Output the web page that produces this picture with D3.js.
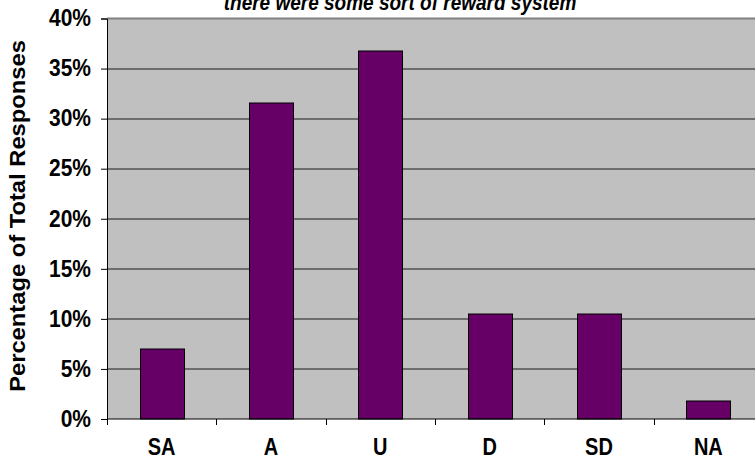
<!DOCTYPE html>
<html>
<head>
<meta charset="utf-8">
<script src="https://cdn.jsdelivr.net/npm/d3@7"></script>
<style>
  body { margin: 0; background: #fff; }
  text { font-family: Arial, "Liberation Sans", sans-serif; }
</style>
</head>
<body>
<div id="chart"></div>
<script>
// response categories and share of total responses (%)
var categories = ["SA", "A", "U", "D", "SD", "NA"];
var shares = [7.0, 31.6, 36.8, 10.5, 10.5, 1.8];
var yTicks = [0, 5, 10, 15, 20, 25, 30, 35, 40];
var titleText = "there were some sort of reward system";
var yTitle = "Percentage of Total Responses";

var width = 755, height = 466;
var margin = {top: 18.5, right: -8, bottom: 47, left: 107};
var innerW = width - margin.left - margin.right,
    innerH = height - margin.top - margin.bottom;
var stretch = 1.15; // the reference text looks stretched vertically

var svg = d3.select("#chart").append("svg")
    .attr("width", width)
    .attr("height", height);

var g = svg.append("g")
    .attr("transform", "translate(" + margin.left + "," + margin.top + ")");

var x = d3.scaleBand()
    .domain(categories)
    .range([0, innerW])
    .paddingInner(0.6)
    .paddingOuter(0.3);

var y = d3.scaleLinear()
    .domain([0, 40])
    .range([innerH, 0]);

// plot area
g.append("rect")
    .attr("width", innerW)
    .attr("height", innerH)
    .attr("fill", "#c0c0c0");

// gridlines
g.selectAll("line.grid")
    .data(yTicks.slice(1, -1))
    .enter()
    .append("line")
        .attr("class", "grid")
        .attr("x1", 0)
        .attr("x2", innerW)
        .attr("y1", function(d) { return Math.round(y(d)) + 0.5; })
        .attr("y2", function(d) { return Math.round(y(d)) + 0.5; })
        .attr("stroke", "#1a1a1a")
        .attr("stroke-width", 1);

// top border
g.append("line")
    .attr("x1", 0).attr("x2", innerW)
    .attr("y1", y(40)).attr("y2", y(40))
    .attr("stroke", "#808080")
    .attr("stroke-width", 2);

// bars
g.selectAll("rect.bar")
    .data(shares)
    .enter()
    .append("rect")
        .attr("class", "bar")
        .attr("x", function(d, i) { return Math.round(x(categories[i])) + 0.5; })
        .attr("y", function(d) { return Math.round(y(d)) + 0.5; })
        .attr("width", Math.round(x.bandwidth()))
        .attr("height", function(d) { return Math.round(innerH - y(d)); })
        .attr("fill", "#660066")
        .attr("stroke", "#000")
        .attr("stroke-width", 1);

// y axis
var yAxis = g.append("g")
    .call(d3.axisLeft(y)
        .tickValues(yTicks)
        .tickSize(6)
        .tickPadding(10)
        .tickFormat(function(d) { return d + "%"; }));
yAxis.select(".domain").attr("stroke", "#000");
yAxis.selectAll(".tick line").attr("stroke", "#000");
yAxis.selectAll("text")
    .attr("fill", "#000")
    .attr("transform", "scale(1," + stretch + ")")
    .attr("dy", "0.3em")
    .style("font-size", "21px")
    .style("font-weight", "bold");

// x axis with ticks on category boundaries
var step = x.step();
var xAxis = g.append("g")
    .attr("transform", "translate(0," + innerH + ")");
xAxis.append("line")
    .attr("x1", 0).attr("x2", innerW)
    .attr("stroke", "#000");
xAxis.selectAll("line.tk")
    .data(d3.range(categories.length + 1))
    .enter()
    .append("line")
        .attr("class", "tk")
        .attr("x1", function(d) { return Math.round(d * step) + 0.5; })
        .attr("x2", function(d) { return Math.round(d * step) + 0.5; })
        .attr("y1", 0)
        .attr("y2", 6)
        .attr("stroke", "#000");
xAxis.selectAll("text")
    .data(categories)
    .enter()
    .append("text")
        .attr("transform", function(d) {
            return "translate(" + (x(d) + x.bandwidth() / 2) + ",36) scale(1," + stretch + ")";
        })
        .attr("text-anchor", "middle")
        .style("font-size", "20px")
        .style("font-weight", "bold")
        .text(function(d) { return d; });

// y axis title
svg.append("text")
    .attr("transform", "translate(25,216) rotate(-90) scale(1.08,1)")
    .attr("text-anchor", "middle")
    .style("font-size", "22px")
    .style("font-weight", "bold")
    .text(yTitle);

// chart title (cut off at the top)
svg.append("text")
    .attr("transform", "translate(400,10) scale(1," + stretch + ")")
    .attr("text-anchor", "middle")
    .style("font-size", "19px")
    .style("font-weight", "bold")
    .style("font-style", "italic")
    .text(titleText);
</script>
</body>
</html>
